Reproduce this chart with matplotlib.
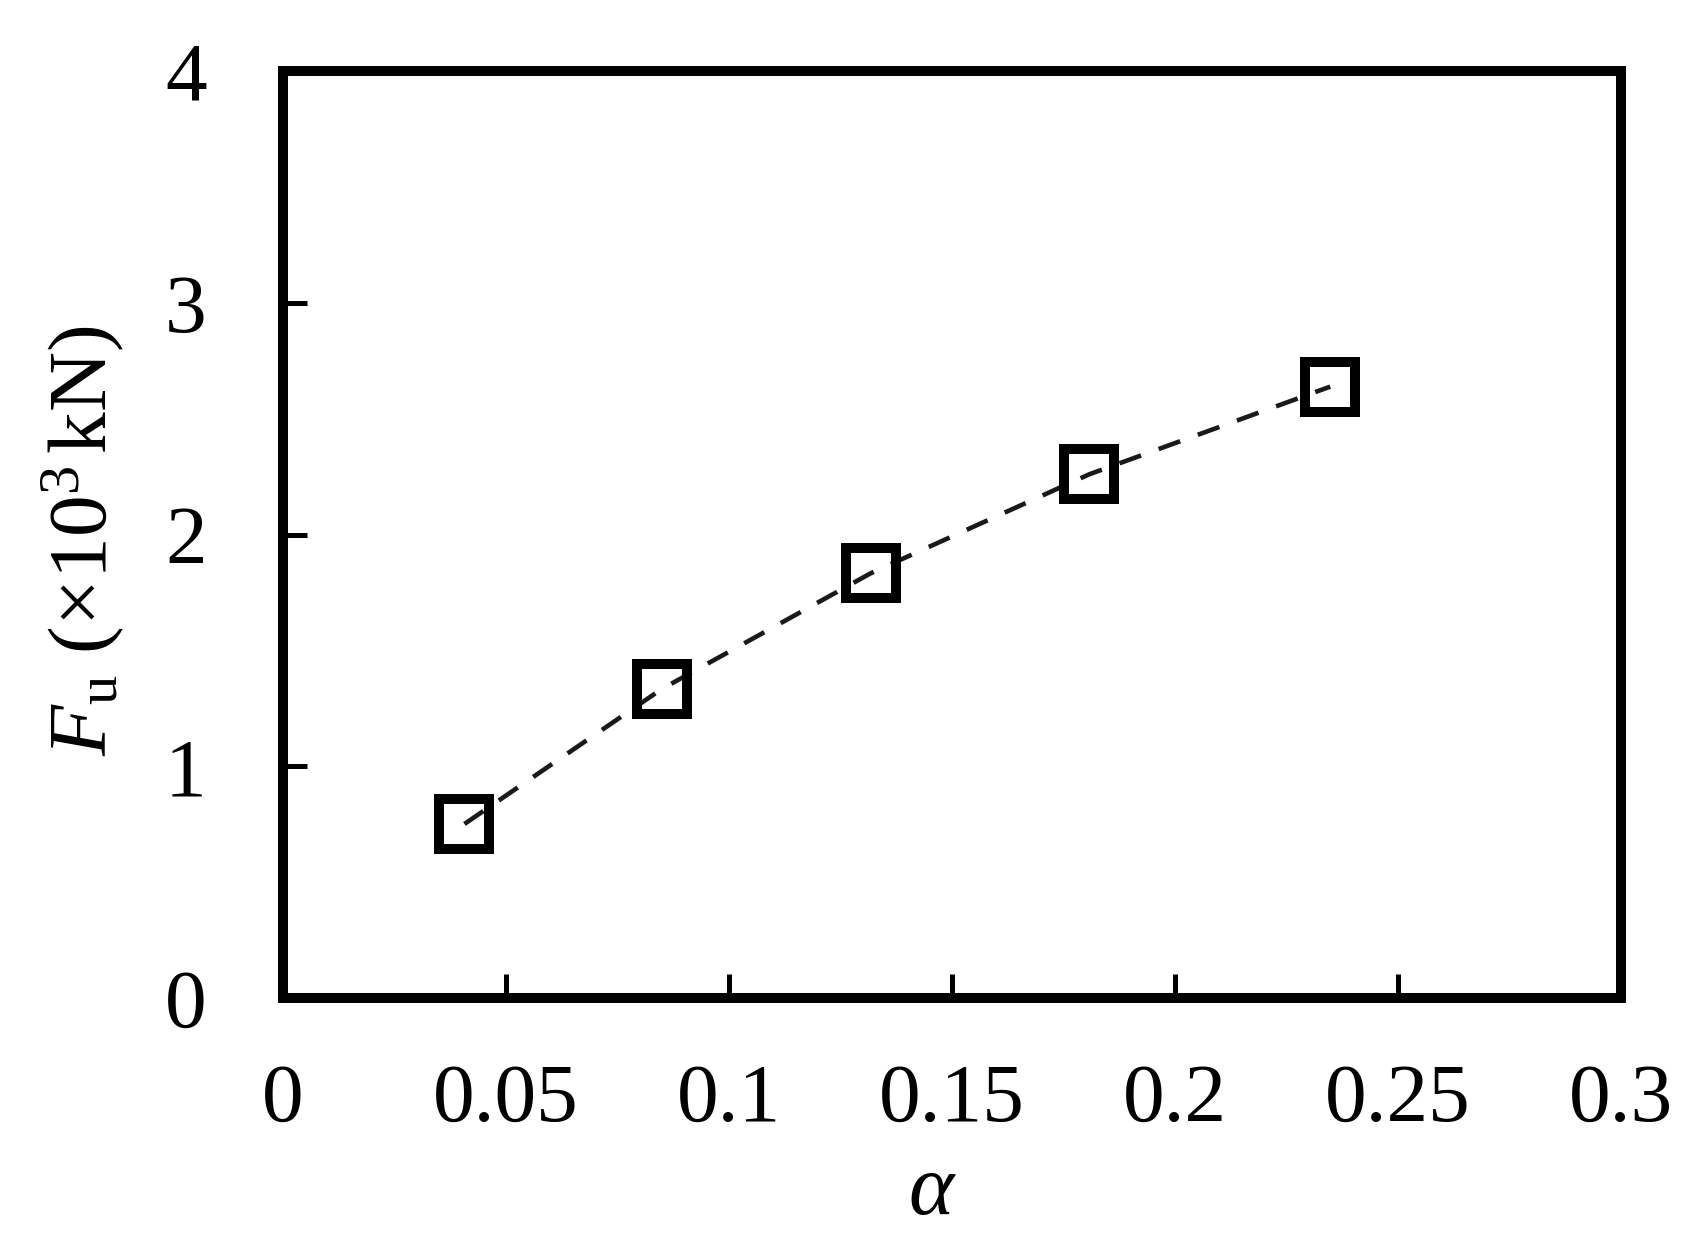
import matplotlib
matplotlib.use("Agg")
import matplotlib.pyplot as plt

# data
alpha = [0.0407, 0.0849, 0.1318, 0.1808, 0.2348]
Fu = [0.751, 1.333, 1.833, 2.260, 2.638]
xticks = [0, 0.05, 0.1, 0.15, 0.2, 0.25, 0.3]
xticklabels = ["0", "0.05", "0.1", "0.15", "0.2", "0.25", "0.3"]
yticks = [0, 1, 2, 3, 4]
yticklabels = ["0", "1", "2", "3", "4"]

plt.rcParams['font.family'] = ['Liberation Serif', 'DejaVu Serif']
plt.rcParams['mathtext.fontset'] = 'custom'
plt.rcParams['mathtext.rm'] = 'Liberation Serif'
plt.rcParams['mathtext.it'] = 'Liberation Serif:italic'
plt.rcParams['mathtext.bf'] = 'Liberation Serif:bold'
plt.rcParams['lines.scale_dashes'] = False

fig = plt.figure(figsize=(16.84, 12.48), dpi=100)
ax = fig.add_axes([0.168, 0.2003, 0.9626 - 0.168, 0.9431 - 0.2003])

ax.plot(alpha, Fu, color='#1a1a1a', lw=3.3, dashes=(16.5, 13.5),
        dash_capstyle='butt', zorder=2)
ax.plot(alpha, Fu, linestyle='none', marker='s', ms=35.3, mew=7.2,
        mfc='none', mec='black', zorder=3)

ax.set_xlim(0, 0.3)
ax.set_ylim(0, 4)
ax.set_xticks(xticks)
ax.set_xticklabels(xticklabels)
ax.set_yticks(yticks)
ax.set_yticklabels(yticklabels)

for s in ax.spines.values():
    s.set_linewidth(7.2)
    s.set_color('black')
    s.set_capstyle('projecting')

ax.tick_params(axis='both', direction='in', length=17, width=3.6,
               labelsize=60, colors='black')
ax.tick_params(axis='x', pad=47)
ax.tick_params(axis='y', pad=55)

fig.text(0.553, 1 - 1193 / 1248, "α", fontsize=62, fontstyle='italic',
         ha='center', va='center')
fig.text(0.049, 1 - 541 / 1248,
         r"$\mathit{F}_{\mathrm{u}}\ (\times 10^{3}\,\mathrm{kN})$",
         fontsize=60, rotation=90, ha='center', va='center')

fig.savefig("out.png", dpi=100)
